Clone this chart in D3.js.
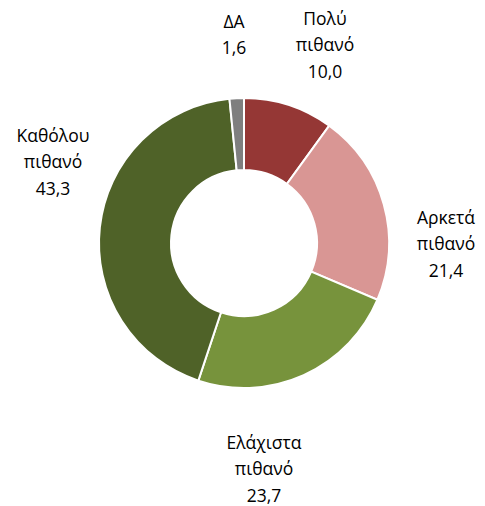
<!DOCTYPE html>
<html>
<head>
<meta charset="utf-8">
<script src="https://cdn.jsdelivr.net/npm/d3@7"></script>
<style>
  body { margin: 0; background: #fff; }
  text { font-family: "Open Sans", "Noto Sans", sans-serif; font-size: 17.5px; fill: #000; }
</style>
</head>
<body>
<div id="chart"></div>
<script>
// data, clockwise from 12 o'clock
const categories = ["Πολύ πιθανό", "Αρκετά πιθανό", "Ελάχιστα πιθανό", "Καθόλου πιθανό", "ΔΑ"];
const values = [10.0, 21.4, 23.7, 43.3, 1.6];
const colors = ["#953735", "#D99694", "#77933C", "#4F6228", "#7F7F7F"];

// label layout (centre of each text block), kept apart from the data
const labelAt = [[325, 45], [446, 244], [264, 469], [53, 162], [234, 35]];

const width = 485, height = 506;
const cx = 244, cy = 243, rOuter = 145, rInner = 73;

const svg = d3.select("#chart").append("svg")
  .attr("width", width)
  .attr("height", height);

const pie = d3.pie().sort(null).value(d => d);
const arc = d3.arc().innerRadius(rInner).outerRadius(rOuter);

const g = svg.append("g").attr("transform", "translate(" + cx + "," + cy + ")");

g.selectAll("path")
  .data(pie(values))
  .enter().append("path")
  .attr("d", arc)
  .attr("fill", (d, i) => colors[i])
  .attr("stroke", "#fff")
  .attr("stroke-width", 2);

const fmt = v => v.toFixed(1).replace(".", ",");
const lineH = 26.5;

categories.forEach((c, i) => {
  const lines = c.split(" ").concat([fmt(values[i])]);
  const [x, y] = labelAt[i];
  const t = svg.append("text")
    .attr("text-anchor", "middle")
    .attr("x", x)
    .attr("y", y - (lines.length - 1) * lineH / 2)
    .attr("dy", "0.35em");
  lines.forEach((l, j) => {
    t.append("tspan")
      .attr("x", x)
      .attr("dy", j === 0 ? "0.35em" : lineH)
      .text(l);
  });
});
</script>
</body>
</html>
